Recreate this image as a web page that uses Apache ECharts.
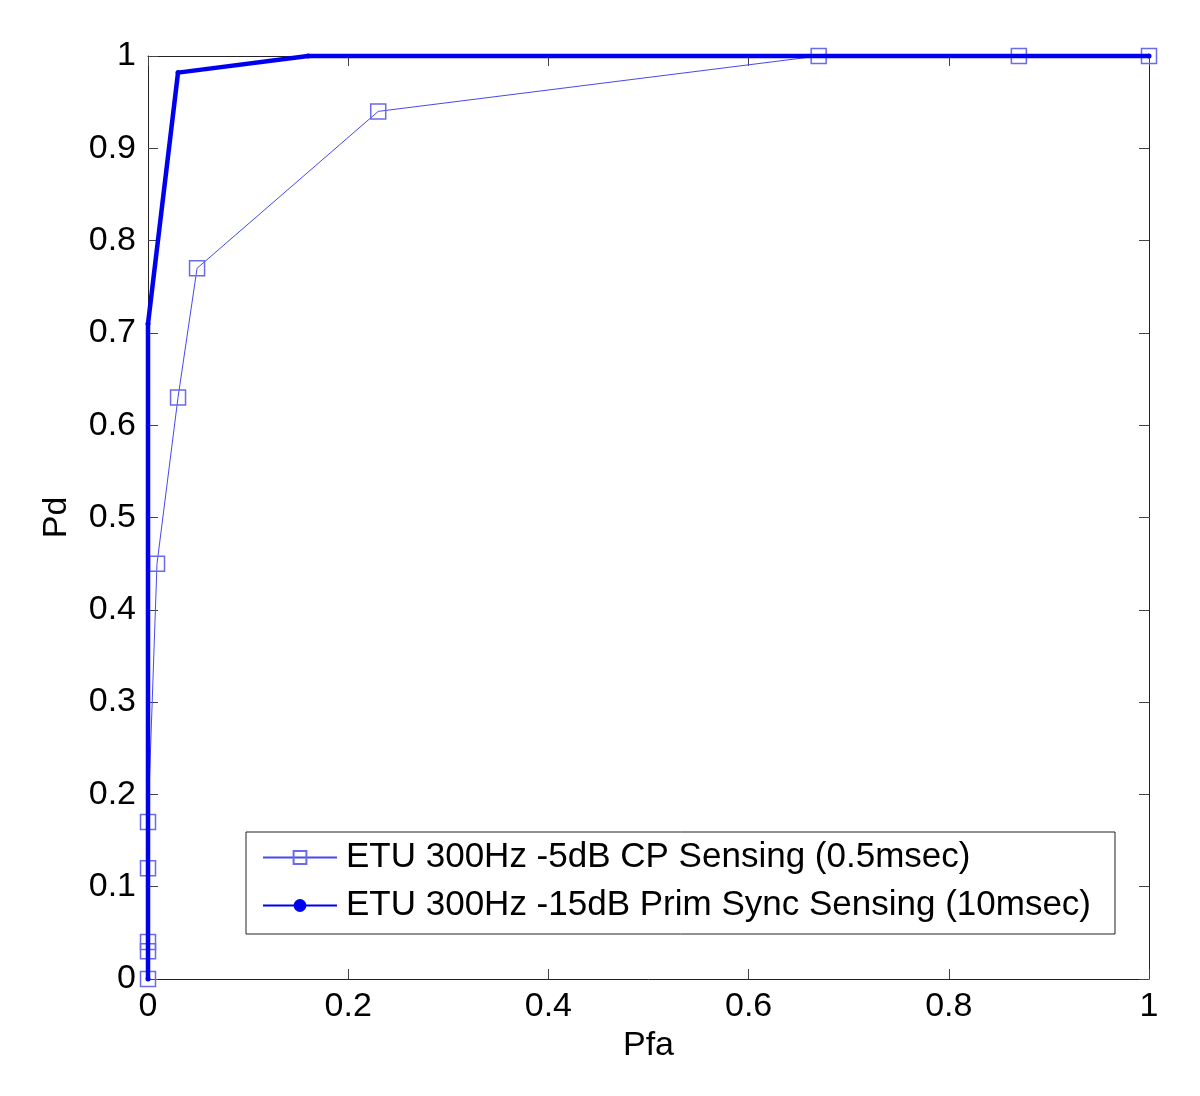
<!DOCTYPE html>
<html>
<head>
<meta charset="utf-8">
<script src="https://cdn.jsdelivr.net/npm/echarts@6/dist/echarts.min.js"></script>
<style>
html,body{margin:0;padding:0;background:#fff;}
#chart{width:1200px;height:1096px;}
</style>
</head>
<body>
<div id="chart"></div>
<script>
// Series: ETU 300Hz -5dB CP Sensing (0.5msec)
const cpPfa = [0, 0, 0, 0, 0, 0.009, 0.03, 0.049, 0.23, 0.67, 0.87, 1];
const cpPd  = [0, 0.03, 0.04, 0.12, 0.17, 0.45, 0.63, 0.77, 0.94, 1, 1, 1];
// Series: ETU 300Hz -15dB Prim Sync Sensing (10msec)
const psPfa = [0, 0, 0.03, 0.16, 1];
const psPd  = [0, 0.71, 0.982, 1, 1];

const seriesNames = ['ETU 300Hz -5dB CP Sensing (0.5msec)', 'ETU 300Hz -15dB Prim Sync Sensing (10msec)'];
const xTicks = [0, 0.2, 0.4, 0.6, 0.8, 1];
const yTicks = [0, 0.1, 0.2, 0.3, 0.4, 0.5, 0.6, 0.7, 0.8, 0.9, 1];

const zip = (a, b) => a.map((v, i) => [v, b[i]]);
const FONT = '"Liberation Sans", Arial, Helvetica, sans-serif';

const chart = echarts.init(document.getElementById('chart'), null, {renderer: 'canvas'});

const axisCommon = () => ({
  min: 0, max: 1,
  axisLine: {show: true, onZero: false, lineStyle: {color: '#222', width: 1}},
  axisTick: {show: true, inside: true, length: 10, lineStyle: {color: '#444', width: 1}},
  splitLine: {show: false}
});
const fmt = v => String(+v.toFixed(1));

chart.setOption({
  backgroundColor: '#fff',
  animation: false,
  grid: {left: 148, right: 51, top: 56, bottom: 117, containLabel: false},
  legend: {
    show: true,
    left: 246, top: 832,
    orient: 'vertical',
    data: seriesNames,
    backgroundColor: '#fff',
    borderColor: '#222', borderWidth: 1,
    padding: [8, 24, 11, 16],
    itemWidth: 74, itemHeight: 16, itemGap: 13,
    textStyle: {fontFamily: FONT, fontSize: 35, color: '#000', lineHeight: 34, padding: [0, 0, 0, 4]}
  },
  xAxis: [
    Object.assign(axisCommon(), {
      type: 'value', position: 'bottom', interval: 0.2,
      name: 'Pfa', nameLocation: 'middle', nameGap: 46,
      nameTextStyle: {fontFamily: FONT, fontSize: 34, color: '#000'},
      axisLabel: {show: true, margin: 11, fontFamily: FONT, fontSize: 34, color: '#000', formatter: fmt}
    }),
    Object.assign(axisCommon(), {
      type: 'value', position: 'top', interval: 0.2, axisLabel: {show: false}
    })
  ],
  yAxis: [
    Object.assign(axisCommon(), {
      type: 'value', position: 'left', interval: 0.1,
      name: 'Pd', nameLocation: 'middle', nameGap: 74, nameRotate: 90,
      nameTextStyle: {fontFamily: FONT, fontSize: 34, color: '#000'},
      axisLabel: {show: true, margin: 12, fontFamily: FONT, fontSize: 34, color: '#000', formatter: fmt}
    }),
    Object.assign(axisCommon(), {
      type: 'value', position: 'right', interval: 0.1, axisLabel: {show: false}
    })
  ],
  series: [
    {
      name: seriesNames[0],
      type: 'line',
      data: zip(cpPfa, cpPd),
      clip: false,
      symbol: 'rect', symbolSize: 15,
      showAllSymbol: true,
      lineStyle: {color: '#4848ee', width: 1},
      itemStyle: {color: 'rgba(0,0,0,0)', borderColor: '#6a6aec', borderWidth: 1.5},
      emphasis: {disabled: true},
      z: 2
    },
    {
      name: seriesNames[1],
      type: 'line',
      data: zip(psPfa, psPd),
      clip: false,
      symbol: 'circle', symbolSize: 5,
      showAllSymbol: true,
      lineStyle: {color: '#0000f0', width: 4.5},
      itemStyle: {color: '#0000f0'},
      emphasis: {disabled: true},
      z: 3
    }
  ]
});
</script>
</body>
</html>
